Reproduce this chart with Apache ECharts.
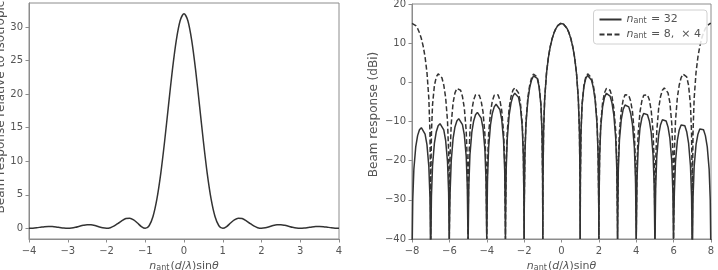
<!DOCTYPE html>
<html>
<head>
<meta charset="utf-8">
<script src="https://cdn.jsdelivr.net/npm/echarts@6/dist/echarts.min.js"></script>
<style>
  html, body { margin: 0; padding: 0; background: #fff; }
  #chart { width: 718px; height: 270px; }
</style>
</head>
<body>
<div id="chart"></div>
<script>
// left panel: linear beam response, n_ant = 32
const leftX = [-4, -3.9, -3.8, -3.7, -3.6, -3.5, -3.4, -3.3, -3.2, -3.1,
  -3, -2.9, -2.8, -2.7, -2.6, -2.5, -2.4, -2.3, -2.2, -2.1,
  -2, -1.9, -1.8, -1.7, -1.6, -1.5, -1.4, -1.3, -1.2, -1.1,
  -1, -0.9, -0.8, -0.7, -0.6, -0.5, -0.4, -0.3, -0.2, -0.1,
  0, 0.1, 0.2, 0.3, 0.4, 0.5, 0.6, 0.7, 0.8, 0.9,
  1, 1.1, 1.2, 1.3, 1.4, 1.5, 1.6, 1.7, 1.8, 1.9,
  2, 2.1, 2.2, 2.3, 2.4, 2.5, 2.6, 2.7, 2.8, 2.9,
  3, 3.1, 3.2, 3.3, 3.4, 3.5, 3.6, 3.7, 3.8, 3.9, 4]
const leftGain = [0, 0.02, 0.08, 0.16, 0.24, 0.28, 0.26, 0.20, 0.11, 0.03,
  0, 0.04, 0.15, 0.30, 0.44, 0.53, 0.52, 0.41, 0.23, 0.07,
  0, 0.09, 0.35, 0.74, 1.15, 1.45, 1.51, 1.26, 0.78, 0.26,
  0, 0.38, 1.76, 4.34, 8.16, 12.98, 18.34, 23.59, 28.00, 30.96,
  32.00, 30.96, 28.00, 23.59, 18.34, 12.98, 8.16, 4.34, 1.76, 0.38,
  0, 0.26, 0.78, 1.26, 1.51, 1.45, 1.15, 0.74, 0.35, 0.09,
  0, 0.07, 0.23, 0.41, 0.52, 0.53, 0.44, 0.30, 0.15, 0.04,
  0, 0.03, 0.11, 0.20, 0.26, 0.28, 0.24, 0.16, 0.08, 0.02, 0]
const leftYTicks = [0, 5, 10, 15, 20, 25, 30]

// right panel: beam response in dBi
const rightX = [
  -8, -7.99, -7.96, -7.9, -7.8, -7.7, -7.6, -7.5, -7.4, -7.3, -7.2, -7.1, -7.04, -7.01,
  -7, -6.99, -6.96, -6.9, -6.8, -6.7, -6.6, -6.5, -6.4, -6.3, -6.2, -6.1, -6.04, -6.01,
  -6, -5.99, -5.96, -5.9, -5.8, -5.7, -5.6, -5.5, -5.4, -5.3, -5.2, -5.1, -5.04, -5.01,
  -5, -4.99, -4.96, -4.9, -4.8, -4.7, -4.6, -4.5, -4.4, -4.3, -4.2, -4.1, -4.04, -4.01,
  -4, -3.99, -3.96, -3.9, -3.8, -3.7, -3.6, -3.5, -3.4, -3.3, -3.2, -3.1, -3.04, -3.01,
  -3, -2.99, -2.96, -2.9, -2.8, -2.7, -2.6, -2.5, -2.4, -2.3, -2.2, -2.1, -2.04, -2.01,
  -2, -1.99, -1.96, -1.9, -1.8, -1.7, -1.6, -1.5, -1.4, -1.3, -1.2, -1.1, -1.04, -1.01,
  -1, -0.99, -0.96, -0.9, -0.8, -0.7, -0.6, -0.5, -0.4, -0.3, -0.2, -0.1, -0.04, -0.01,
  0, 0.01, 0.04, 0.1, 0.2, 0.3, 0.4, 0.5, 0.6, 0.7, 0.8, 0.9, 0.96, 0.99,
  1, 1.01, 1.04, 1.1, 1.2, 1.3, 1.4, 1.5, 1.6, 1.7, 1.8, 1.9, 1.96, 1.99,
  2, 2.01, 2.04, 2.1, 2.2, 2.3, 2.4, 2.5, 2.6, 2.7, 2.8, 2.9, 2.96, 2.99,
  3, 3.01, 3.04, 3.1, 3.2, 3.3, 3.4, 3.5, 3.6, 3.7, 3.8, 3.9, 3.96, 3.99,
  4, 4.01, 4.04, 4.1, 4.2, 4.3, 4.4, 4.5, 4.6, 4.7, 4.8, 4.9, 4.96, 4.99,
  5, 5.01, 5.04, 5.1, 5.2, 5.3, 5.4, 5.5, 5.6, 5.7, 5.8, 5.9, 5.96, 5.99,
  6, 6.01, 6.04, 6.1, 6.2, 6.3, 6.4, 6.5, 6.6, 6.7, 6.8, 6.9, 6.96, 6.99,
  7, 7.01, 7.04, 7.1, 7.2, 7.3, 7.4, 7.5, 7.6, 7.7, 7.8, 7.9, 7.96, 7.99,
  8]
const full32 = [
  -40, -42.09, -30.04, -22.15, -16.48, -13.61, -12.12, -11.59, -11.93, -13.23, -15.92, -21.40, -29.18, -41.17,
  -40, -41.15, -29.09, -21.19, -15.50, -12.61, -11.10, -10.55, -10.87, -12.15, -14.81, -20.27, -28.03, -40.02,
  -40, -39.99, -27.93, -20.01, -14.30, -11.38, -9.85, -9.27, -9.56, -10.81, -13.44, -18.87, -26.62, -38.59,
  -40, -38.56, -26.49, -18.55, -12.80, -9.85, -8.28, -7.67, -7.92, -9.13, -11.71, -17.10, -24.82, -36.79,
  -40, -36.75, -24.66, -16.69, -10.88, -7.88, -6.26, -5.60, -5.78, -6.92, -9.44, -14.77, -22.45, -34.39,
  -40, -34.34, -22.22, -14.20, -8.31, -5.22, -3.51, -2.76, -2.82, -3.84, -6.24, -11.44, -19.05, -30.95,
  -40, -30.87, -18.72, -10.62, -4.57, -1.30, 0.62, 1.62, 1.77, 1.02, -1.07, -5.90, -13.25, -25.02,
  -40, -24.86, -12.58, -4.20, 2.43, 6.37, 9.11, 11.13, 12.63, 13.73, 14.47, 14.91, 15.03, 15.05,
  15.05, 15.05, 15.03, 14.91, 14.47, 13.73, 12.63, 11.13, 9.11, 6.37, 2.43, -4.20, -12.58, -24.86,
  -40, -25.02, -13.25, -5.90, -1.07, 1.02, 1.77, 1.62, 0.62, -1.30, -4.57, -10.62, -18.72, -30.87,
  -40, -30.95, -19.05, -11.44, -6.24, -3.84, -2.82, -2.76, -3.51, -5.22, -8.31, -14.20, -22.22, -34.34,
  -40, -34.39, -22.45, -14.77, -9.44, -6.92, -5.78, -5.60, -6.26, -7.88, -10.88, -16.69, -24.66, -36.75,
  -40, -36.79, -24.82, -17.10, -11.71, -9.13, -7.92, -7.67, -8.28, -9.85, -12.80, -18.55, -26.49, -38.56,
  -40, -38.59, -26.62, -18.87, -13.44, -10.81, -9.56, -9.27, -9.85, -11.38, -14.30, -20.01, -27.93, -39.99,
  -40, -40.02, -28.03, -20.27, -14.81, -12.15, -10.87, -10.55, -11.10, -12.61, -15.50, -21.19, -29.09, -41.15,
  -40, -41.17, -29.18, -21.40, -15.92, -13.23, -11.93, -11.59, -12.12, -13.61, -16.48, -22.15, -30.04, -42.09,
  -40]
const sub8x4 = [
  15.05, 15.05, 15.03, 14.91, 14.48, 13.74, 12.67, 11.18, 9.19, 6.47, 2.56, -4.03, -12.39, -24.65,
  -40, -24.81, -13.03, -5.65, -0.77, 1.37, 2.19, 2.10, 1.17, -0.68, -3.88, -9.84, -17.90, -30.03,
  -40, -30.09, -18.15, -10.52, -5.18, -2.68, -1.57, -1.41, -2.03, -3.61, -6.58, -12.34, -20.29, -32.36,
  -40, -32.39, -20.40, -12.63, -7.15, -4.47, -3.18, -2.84, -3.32, -4.75, -7.56, -13.18, -21.04, -33.07,
  -40, -33.07, -21.04, -13.18, -7.56, -4.75, -3.32, -2.84, -3.18, -4.47, -7.15, -12.63, -20.40, -32.39,
  -40, -32.36, -20.29, -12.34, -6.58, -3.61, -2.03, -1.41, -1.57, -2.68, -5.18, -10.52, -18.15, -30.09,
  -40, -30.03, -17.90, -9.84, -3.88, -0.68, 1.17, 2.10, 2.19, 1.37, -0.77, -5.65, -13.03, -24.81,
  -40, -24.65, -12.39, -4.03, 2.56, 6.47, 9.19, 11.18, 12.67, 13.74, 14.48, 14.91, 15.03, 15.05,
  15.05, 15.05, 15.03, 14.91, 14.48, 13.74, 12.67, 11.18, 9.19, 6.47, 2.56, -4.03, -12.39, -24.65,
  -40, -24.81, -13.03, -5.65, -0.77, 1.37, 2.19, 2.10, 1.17, -0.68, -3.88, -9.84, -17.90, -30.03,
  -40, -30.09, -18.15, -10.52, -5.18, -2.68, -1.57, -1.41, -2.03, -3.61, -6.58, -12.34, -20.29, -32.36,
  -40, -32.39, -20.40, -12.63, -7.15, -4.47, -3.18, -2.84, -3.32, -4.75, -7.56, -13.18, -21.04, -33.07,
  -40, -33.07, -21.04, -13.18, -7.56, -4.75, -3.32, -2.84, -3.18, -4.47, -7.15, -12.63, -20.40, -32.39,
  -40, -32.36, -20.29, -12.34, -6.58, -3.61, -2.03, -1.41, -1.57, -2.68, -5.18, -10.52, -18.15, -30.09,
  -40, -30.03, -17.90, -9.84, -3.88, -0.68, 1.17, 2.10, 2.19, 1.37, -0.77, -5.65, -13.03, -24.81,
  -40, -24.65, -12.39, -4.03, 2.56, 6.47, 9.19, 11.18, 12.67, 13.74, 14.48, 14.91, 15.03, 15.05,
  15.05]

const seriesNames = ['n_ant = 32', 'n_ant = 8, ×4']
const legendText = {
  'n_ant = 32': '{i|n}{sub|ant}{t| = 32}',
  'n_ant = 8, ×4': '{i|n}{sub|ant}{t| = 8,  × 4}'
}

const font = 'DejaVu Sans'
const spine = '#8c8c8c'
const textCol = '#555'
const lineCol = '#333'

const mathRich = {
  i: { fontStyle: 'italic', fontSize: 11, color: textCol, fontFamily: font },
  t: { fontSize: 11, color: textCol, fontFamily: font },
  sub: { fontSize: 8, color: textCol, fontFamily: font, verticalAlign: 'bottom', lineHeight: 8, padding: [0, 1, 0, 0] }
}
const xName = '{i|n}{sub|ant}{t|(}{i|d}{t|/}{i|λ}{t|)sin}{i|θ}'

const minus = v => String(v).replace('-', '\u2212')

function xAxisCfg (idx, min, max, interval) {
  return {
    type: 'value', gridIndex: idx, min: min, max: max, interval: interval,
    name: xName, nameLocation: 'middle', nameGap: 21,
    nameTextStyle: { rich: mathRich },
    axisLine: { show: true, onZero: false, lineStyle: { color: spine } },
    axisTick: { show: true, length: 3.5, lineStyle: { color: spine } },
    axisLabel: { color: textCol, fontSize: 10, fontFamily: font, margin: 7, formatter: minus },
    splitLine: { show: false }
  }
}

let chart = echarts.init(document.getElementById('chart'))
let option = {
  animation: false,
  grid: [
    { left: 29, top: 3, width: 310, height: 236, outerBoundsMode: 'none', show: true, borderColor: spine, borderWidth: 1 },
    { left: 412, top: 4, width: 299, height: 235, outerBoundsMode: 'none', show: true, borderColor: spine, borderWidth: 1 }
  ],
  legend: {
    data: seriesNames,
    orient: 'vertical',
    right: 11, top: 10,
    itemWidth: 22, itemHeight: 10, itemGap: 4,
    padding: [4, 6, 4, 5],
    backgroundColor: 'rgba(255,255,255,0.85)',
    borderColor: '#d0d0d0', borderWidth: 1, borderRadius: 3,
    itemStyle: { opacity: 0 },
    formatter: name => legendText[name],
    textStyle: { rich: mathRich }
  },
  xAxis: [
    xAxisCfg(0, -4, 4, 1),
    xAxisCfg(1, -8, 8, 2)
  ],
  yAxis: [
    {
      type: 'value', gridIndex: 0, min: -1.6, max: 33.6,
      name: 'Beam response relative to isotropic', nameLocation: 'middle', nameGap: 19,
      nameTextStyle: { color: textCol, fontSize: 12, fontFamily: font, padding: [0, 0, 0, 28] },
      axisLine: { show: true, onZero: false, lineStyle: { color: spine } },
      axisTick: { show: true, length: 3.5, customValues: leftYTicks, lineStyle: { color: spine } },
      axisLabel: { color: textCol, fontSize: 10, fontFamily: font, margin: 6, customValues: leftYTicks },
      splitLine: { show: false }
    },
    {
      type: 'value', gridIndex: 1, min: -40, max: 20, interval: 10,
      name: 'Beam response (dBi)', nameLocation: 'middle', nameGap: 32,
      nameTextStyle: { color: textCol, fontSize: 12, fontFamily: font, padding: [0, 0, 0, 14] },
      axisLine: { show: true, onZero: false, lineStyle: { color: spine } },
      axisTick: { show: true, length: 3.5, lineStyle: { color: spine } },
      axisLabel: { color: textCol, fontSize: 10, fontFamily: font, margin: 6, formatter: minus },
      splitLine: { show: false }
    }
  ],
  series: [
    {
      type: 'line', xAxisIndex: 0, yAxisIndex: 0,
      data: leftX.map((x, i) => [x, leftGain[i]]),
      smooth: 0.3, symbol: 'none',
      lineStyle: { color: lineCol, width: 1.5 }
    },
    {
      name: seriesNames[0],
      type: 'line', xAxisIndex: 1, yAxisIndex: 1,
      data: rightX.map((x, i) => [x, full32[i]]),
      symbol: 'none', clip: true,
      itemStyle: { color: lineCol },
      lineStyle: { color: lineCol, width: 1.5 }
    },
    {
      name: seriesNames[1],
      type: 'line', xAxisIndex: 1, yAxisIndex: 1,
      data: rightX.map((x, i) => [x, sub8x4[i]]),
      symbol: 'none', clip: true,
      itemStyle: { color: lineCol },
      lineStyle: { color: lineCol, width: 1.5, type: [5, 2.5] }
    }
  ]
}

option && chart.setOption(option)
</script>
</body>
</html>
